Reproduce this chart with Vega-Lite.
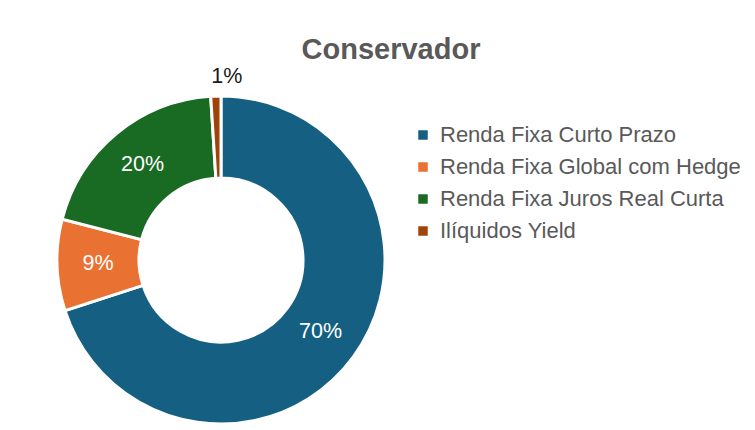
{
  "$schema": "https://vega.github.io/schema/vega-lite/v6.json",
  "autosize": {"type": "none"},
  "width": 442,
  "height": 340,
  "padding": {"left": 0, "top": 90, "right": 313, "bottom": 0},
  "background": "#ffffff",
  "title": {
    "text": "Conservador",
    "font": "Liberation Sans",
    "fontSize": 29,
    "fontWeight": "bold",
    "color": "#595959",
    "anchor": "middle",
    "frame": "group",
    "baseline": "alphabetic",
    "offset": 32,
    "dx": 170,
    "dy": 54
  },
  "data": {
    "values": [
      {"categoria": "Renda Fixa Curto Prazo", "valor": 0.70, "ordem": 1},
      {"categoria": "Renda Fixa Global com Hedge", "valor": 0.09, "ordem": 2},
      {"categoria": "Renda Fixa Juros Real Curta", "valor": 0.20, "ordem": 3},
      {"categoria": "Ilíquidos Yield", "valor": 0.01, "ordem": 4}
    ]
  },
  "encoding": {
    "theta": {"field": "valor", "type": "quantitative", "stack": true},
    "order": {"field": "ordem", "type": "quantitative", "sort": "ascending"}
  },
  "layer": [
    {
      "mark": {"type": "arc", "innerRadius": 82, "outerRadius": 164, "stroke": "#ffffff", "strokeWidth": 3},
      "encoding": {
        "color": {
          "field": "categoria",
          "type": "nominal",
          "scale": {
            "domain": ["Renda Fixa Curto Prazo", "Renda Fixa Global com Hedge", "Renda Fixa Juros Real Curta", "Ilíquidos Yield"],
            "range": ["#156082", "#E97132", "#196B24", "#A0430A"]
          },
          "legend": {
            "title": null,
            "orient": "none",
            "legendX": 412,
            "legendY": 34,
            "padding": 0,
            "symbolType": "square",
            "symbolSize": 90,
            "symbolStrokeWidth": 0,
            "labelFont": "Liberation Sans",
            "labelFontSize": 22,
            "labelColor": "#595959",
            "labelOffset": 6,
            "rowPadding": 10,
            "labelLimit": 400
          }
        }
      }
    },
    {
      "transform": [{"filter": "datum.valor >= 0.05"}],
      "mark": {"type": "text", "radius": 123, "font": "Liberation Sans", "fontSize": 21.5, "color": "#ffffff", "baseline": "middle", "align": "center"},
      "encoding": {
        "text": {"field": "valor", "type": "quantitative", "format": ".0%"}
      }
    },
    {
      "transform": [{"filter": "datum.valor < 0.05"}],
      "mark": {"type": "text", "radius": 183, "font": "Liberation Sans", "fontSize": 21.5, "color": "#1a1a1a", "baseline": "middle", "align": "center"},
      "encoding": {
        "text": {"field": "valor", "type": "quantitative", "format": ".0%"}
      }
    }
  ],
  "config": {"view": {"stroke": null}}
}
